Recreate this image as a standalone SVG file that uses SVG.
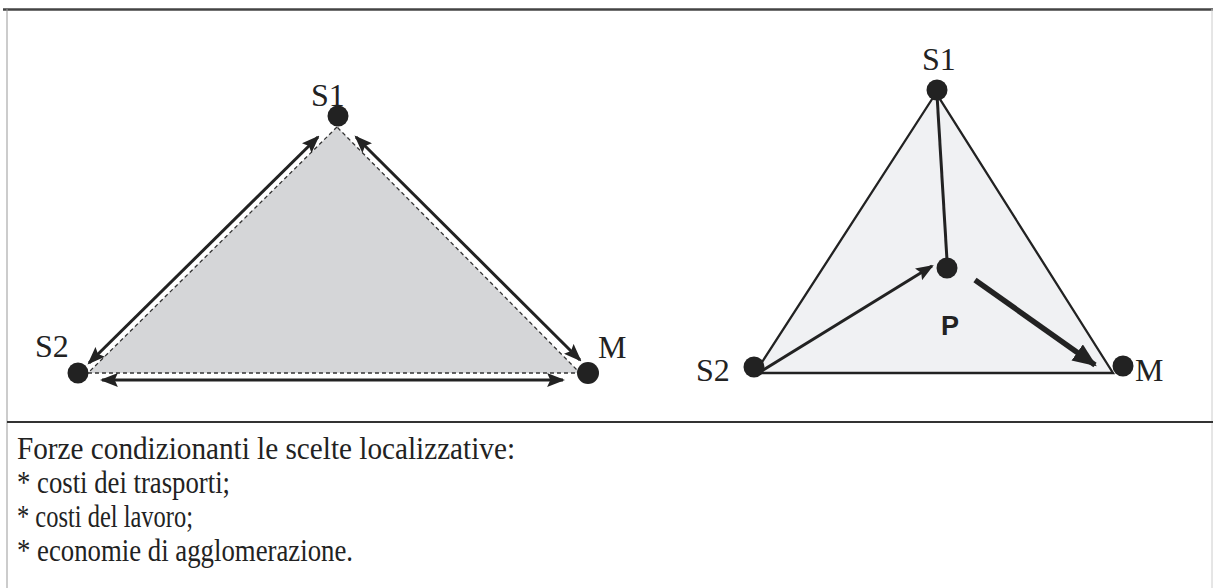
<svg xmlns="http://www.w3.org/2000/svg" width="1213" height="588" viewBox="0 0 1213 588">
<style>
.lbl{font-family:"Liberation Serif","Times New Roman",serif;font-size:32px;fill:#222}
.cap{font-family:"Liberation Serif","Times New Roman",serif;font-size:31px;fill:#222}
.dot{fill:#222}
.dash{fill:none;stroke:#333;stroke-width:1.3;stroke-dasharray:4 3}
.arr{fill:none;stroke:#222;stroke-width:3}
</style>
<defs>
<marker id="ah" markerUnits="userSpaceOnUse" markerWidth="18" markerHeight="14" refX="15" refY="6.5" orient="auto-start-reverse" viewBox="0 0 17 13">
<path d="M0,0 L17,6.5 L0,13 L3,6.5 z" fill="#222"/>
</marker>
<marker id="ahb" markerUnits="userSpaceOnUse" markerWidth="24" markerHeight="20" refX="20" refY="9" orient="auto" viewBox="0 0 22 18">
<path d="M0,0 L22,9 L0,18 z" fill="#222"/>
</marker>
</defs>
<rect width="1213" height="588" fill="#fff"/>
<g id="frame">
<line x1="3" y1="9.5" x2="1213" y2="9.5" stroke="#444" stroke-width="2.5"/>
<line x1="7" y1="9" x2="7" y2="588" stroke="#999" stroke-width="1"/>
<line x1="1212" y1="9" x2="1212" y2="588" stroke="#ccc" stroke-width="1"/>
<line x1="7" y1="422" x2="1213" y2="422" stroke="#333" stroke-width="2"/>
</g>
<g id="left-triangle">
<polygon points="337,127 88,373 580,373" fill="#d5d6d8"/>
<polyline class="dash" points="337,127 88,373 580,373 337,127"/>
</g>
<g id="right-triangle">
<polygon points="936,93 755,373 1113,373" fill="#f0f1f3" stroke="#222" stroke-width="2.3"/>
</g>
<g id="connectors">
<line class="arr" x1="318" y1="137" x2="89" y2="363" marker-start="url(#ah)" marker-end="url(#ah)"/>
<line class="arr" x1="356" y1="137" x2="580" y2="360" marker-start="url(#ah)" marker-end="url(#ah)"/>
<line class="arr" x1="102" y1="380" x2="563" y2="380" marker-start="url(#ah)" marker-end="url(#ah)"/>
<line class="arr" x1="937" y1="95" x2="947" y2="260"/>
<line class="arr" x1="760" y1="372" x2="932" y2="266" marker-end="url(#ah)"/>
<line x1="975" y1="280" x2="1095" y2="365" stroke="#222" stroke-width="5.5" marker-end="url(#ahb)"/>
</g>
<g id="node-S1-left"><circle class="dot" cx="338" cy="116" r="10.5"/><text class="lbl" x="311" y="106">S1</text></g>
<g id="node-S2-left"><circle class="dot" cx="78" cy="373" r="10.5"/><text class="lbl" x="35" y="357">S2</text></g>
<g id="node-M-left"><circle class="dot" cx="588" cy="373" r="11"/><text class="lbl" x="598" y="358">M</text></g>
<g id="node-S1-right"><circle class="dot" cx="937" cy="90" r="10.5"/><text class="lbl" x="922" y="70">S1</text></g>
<g id="node-S2-right"><circle class="dot" cx="754" cy="367" r="10.5"/><text class="lbl" x="696" y="381">S2</text></g>
<g id="node-M-right"><circle class="dot" cx="1123" cy="366" r="10.5"/><text class="lbl" x="1135" y="381">M</text></g>
<g id="node-P"><circle class="dot" cx="947" cy="268" r="10.5"/><text x="950" y="335" text-anchor="middle" style="font-family:'Liberation Sans',Arial,sans-serif;font-weight:bold;font-size:27px;fill:#222">P</text></g>
<g id="caption">
<text class="cap" x="17" y="459" textLength="498" lengthAdjust="spacingAndGlyphs">Forze condizionanti le scelte localizzative:</text>
<text class="cap" x="17" y="493" textLength="213" lengthAdjust="spacingAndGlyphs">* costi dei trasporti;</text>
<text class="cap" x="17" y="527" textLength="176" lengthAdjust="spacingAndGlyphs">* costi del lavoro;</text>
<text class="cap" x="17" y="561" textLength="336" lengthAdjust="spacingAndGlyphs">* economie di agglomerazione.</text>
</g>
</svg>
